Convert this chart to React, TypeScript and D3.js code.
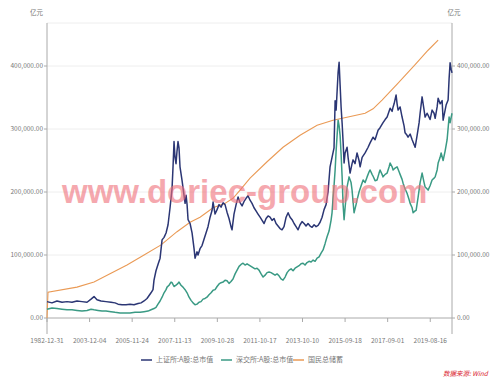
import React from "react";
import * as d3 from "d3";

// x positions are trading-day indices on the category axis; values in thousand 亿元
const xTickLabels = ["1982-12-31", "2003-12-04", "2005-11-24", "2007-11-13", "2009-10-28", "2011-10-17", "2013-10-10", "2015-09-18", "2017-09-01", "2019-08-16"];
const xTickStep = 470;
const totalDays = 4470;
const yTicks = [0, 100000, 200000, 300000, 400000];
const seriesNames = ["上证所:A股:总市值", "深交所:A股:总市值", "国民总储蓄"];
const valueUnit = 1000;

const shDays = [0,55,110,166,221,276,331,386,442,486,519,552,596,651,706,751,784,828,872,916,960,1005,1038,1071,1104,1148,1170,1181,1203,1225,1248,1270,1292,1314,1336,1358,1380,1391,1402,1413,1424,1435,1446,1457,1468,1490,1512,1524,1535,1546,1557,1579,1601,1623,1634,1656,1667,1689,1711,1733,1755,1777,1800,1822,1833,1855,1877,1899,1921,1943,1965,1987,2009,2031,2042,2064,2087,2109,2131,2153,2175,2197,2219,2241,2263,2285,2307,2329,2352,2374,2396,2418,2440,2462,2484,2506,2528,2550,2572,2594,2616,2639,2661,2683,2705,2727,2749,2771,2793,2815,2837,2859,2881,2904,2926,2948,2970,2992,3014,3036,3058,3080,3102,3124,3146,3168,3180,3191,3202,3213,3224,3235,3246,3257,3268,3279,3290,3312,3323,3345,3367,3378,3400,3422,3444,3456,3478,3511,3544,3566,3599,3621,3654,3676,3709,3732,3754,3787,3809,3820,3831,3853,3864,3875,3897,3919,3941,3952,3974,3985,4008,4030,4052,4063,4085,4107,4118,4140,4162,4173,4195,4206,4228,4250,4272,4284,4306,4317,4339,4361,4372,4394,4405,4427,4438,4449,4460,4470];
const shValues = [26,24,27,25,26,25,27,26,25,30,34,29,27,26,25,24,22,21,21,22,21,23,24,27,31,40,45,60,75,85,95,124,128,135,148,175,205,240,280,255,245,265,280,270,240,219,195,182,195,180,156,150,135,110,95,105,100,110,115,125,135,145,160,171,184,165,172,180,176,183,180,168,158,145,140,165,180,192,183,178,185,190,194,187,182,175,170,165,160,155,150,158,162,160,155,158,150,146,142,140,145,160,167,160,156,150,145,140,148,153,150,146,150,146,144,148,145,147,152,160,172,180,200,240,255,270,345,330,360,390,406,370,335,310,280,246,262,271,255,230,245,251,245,262,250,240,255,262,271,278,287,283,298,302,310,315,319,333,328,335,340,354,340,330,335,319,305,294,290,287,292,283,275,271,290,310,325,351,330,319,325,322,315,330,325,317,335,349,340,345,314,330,338,346,380,405,395,389];

const szDays = [0,55,110,166,221,276,331,386,442,486,519,563,607,651,706,751,806,861,916,972,1027,1071,1115,1148,1181,1203,1225,1248,1270,1292,1314,1325,1347,1369,1380,1402,1424,1446,1457,1479,1501,1524,1546,1568,1590,1612,1634,1656,1678,1700,1722,1744,1766,1788,1811,1833,1855,1877,1899,1921,1943,1965,1987,2009,2031,2053,2076,2098,2120,2142,2164,2186,2208,2230,2252,2274,2296,2318,2340,2363,2385,2407,2429,2451,2473,2495,2517,2539,2561,2583,2605,2628,2650,2672,2694,2716,2738,2760,2782,2804,2826,2848,2870,2892,2915,2937,2959,2981,3003,3025,3047,3069,3091,3113,3135,3146,3157,3168,3180,3191,3202,3213,3224,3235,3246,3257,3268,3279,3290,3312,3334,3356,3367,3389,3411,3422,3444,3467,3489,3511,3533,3555,3566,3588,3599,3621,3643,3665,3676,3698,3709,3732,3754,3776,3787,3809,3820,3842,3864,3886,3897,3919,3930,3952,3974,3996,4008,4030,4041,4063,4074,4096,4118,4140,4162,4173,4195,4206,4228,4250,4272,4284,4306,4317,4339,4350,4372,4394,4416,4438,4449,4470];
const szValues = [14,16,15,14,13,13,12,11,12,14,13,12,11,11,10,9,8,8,8,9,9,10,11,13,15,17,22,27,33,40,45,49,52,57,56,50,52,55,57,52,49,45,40,33,28,24,21,22,25,26,30,31,33,37,40,44,45,50,54,56,57,60,59,55,58,62,70,76,82,85,87,84,86,84,82,80,78,79,76,70,65,68,72,73,72,70,68,70,67,62,60,65,72,76,78,75,79,81,83,86,87,84,88,90,89,92,90,95,97,103,108,118,129,138,155,167,190,210,235,265,290,314,305,290,260,225,180,156,175,208,224,215,203,167,180,187,200,210,219,215,224,232,235,228,225,218,219,230,235,228,224,228,230,240,246,240,235,238,240,232,228,220,214,205,198,188,182,175,167,170,171,192,215,230,215,208,205,203,210,219,222,224,235,246,255,262,250,265,283,319,310,325];

const gnsDays = [0,11,331,519,706,883,1071,1259,1435,1579,1689,1833,1965,2053,2131,2241,2429,2605,2793,2981,3157,3323,3511,3599,3698,3875,4063,4206,4317];
const gnsValues = [0,41,49,57,71,84,100,116,137,152,160,175,182,190,203,222,248,271,290,306,314,319,325,332,346,373,402,425,441];

const colors = ["#2b3674", "#3a9a84", "#ea9a55"];

export default function App() {
  const W = 499, H = 381;
  const x = d3.scaleLinear().domain([0, totalDays]).range([47, 452]);
  const y = d3.scaleLinear().domain([0, 400000]).range([318, 66]);
  const plotTop = 23, axisBottom = 334;
  const fmt = d3.format(",.2f");
  const line = d3.line<[number, number]>().x(d => x(d[0])).y(d => y(d[1] * valueUnit));
  const mk = (days: number[], vals: number[]) => days.map((dd, i) => [dd, vals[i]] as [number, number]);
  const series = [mk(shDays, shValues), mk(szDays, szValues), mk(gnsDays, gnsValues)];
  const font = "'Microsoft YaHei', 'Noto Sans CJK SC', sans-serif";
  const legendX = [141, 221, 293];
  return (
    <svg width={W} height={H} style={{ position: "absolute", left: 0, top: 0, background: "#fff" }} fontFamily={font}>
      {/* gridlines */}
      <line x1={47} x2={452} y1={plotTop} y2={plotTop} stroke="#eeeeee" />
      {yTicks.filter(t => t > 0).map(t => (
        <line key={t} x1={47} x2={452} y1={y(t)} y2={y(t)} stroke="#eeeeee" />
      ))}
      {/* axes */}
      <line x1={47} x2={47} y1={plotTop} y2={axisBottom} stroke="#aaaaaa" strokeWidth={1} />
      <line x1={452} x2={452} y1={plotTop} y2={axisBottom} stroke="#aaaaaa" strokeWidth={1} />
      <line x1={47} x2={452} y1={y(0)} y2={y(0)} stroke="#aaaaaa" strokeWidth={1} />
      {yTicks.map(t => (
        <g key={t}>
          <line x1={44} x2={47} y1={y(t)} y2={y(t)} stroke="#aaaaaa" />
          <line x1={452} x2={455} y1={y(t)} y2={y(t)} stroke="#aaaaaa" />
          <text x={43} y={y(t)} dy="0.35em" textAnchor="end" fontSize={6.5} fill="#777">{fmt(t)}</text>
          <text x={457} y={y(t)} dy="0.35em" textAnchor="start" fontSize={6.5} fill="#777">{fmt(t)}</text>
        </g>
      ))}
      <text x={43} y={15} textAnchor="end" fontSize={6.5} fill="#777">亿元</text>
      <text x={454} y={15} textAnchor="middle" fontSize={6.5} fill="#777">亿元</text>
      {xTickLabels.map((lab, i) => (
        <g key={lab}>
          <line x1={x(i * xTickStep)} x2={x(i * xTickStep)} y1={y(0)} y2={y(0) + 4} stroke="#aaaaaa" />
          <text x={x(i * xTickStep)} y={343} textAnchor="middle" fontSize={6.5} fill="#777">{lab}</text>
        </g>
      ))}
      {/* lines */}
      <path d={line(series[2]) || ""} fill="none" stroke={colors[2]} strokeWidth={1.1} />
      <path d={line(series[1]) || ""} fill="none" stroke={colors[1]} strokeWidth={1.5} strokeLinejoin="round" />
      <path d={line(series[0]) || ""} fill="none" stroke={colors[0]} strokeWidth={1.5} strokeLinejoin="round" />
      {/* watermark */}
      <text x={62} y={203} fontSize={33} fontFamily="'Liberation Sans', Arial, sans-serif" fill="#ef6f7a" opacity={0.6} fontWeight="bold">www.doriec-group.com</text>
      {/* legend */}
      {seriesNames.map((n, i) => (
        <g key={n}>
          <line x1={legendX[i]} x2={legendX[i] + 11} y1={360} y2={360} stroke={colors[i]} strokeWidth={1.5} />
          <text x={legendX[i] + 15} y={360} dy="0.35em" fontSize={7} fill="#777">{n}</text>
        </g>
      ))}
      <text x={443} y={376} fontSize={6.5} fill="#d9232e" fontStyle="italic">数据来源: Wind</text>
    </svg>
  );
}
